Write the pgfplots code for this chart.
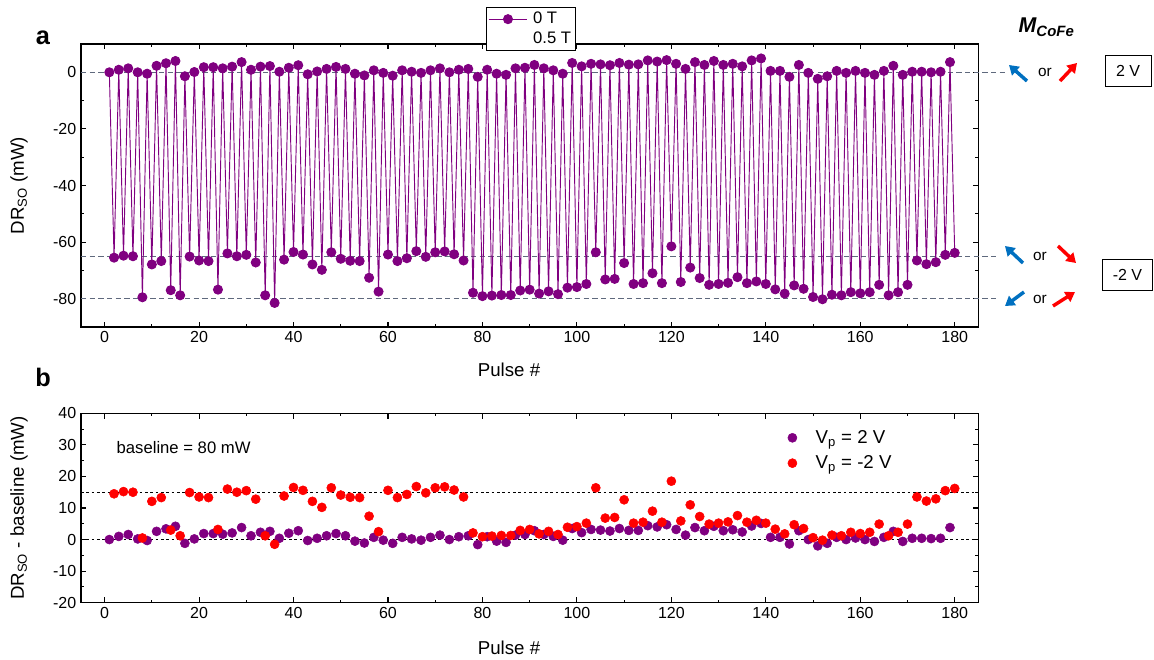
\documentclass[border=0pt]{standalone}
\usepackage{pgfplots}
\pgfplotsset{compat=1.18}
\usepackage{pgfplotstable}
\usepackage{fontspec}
\setmainfont{Liberation Sans}
\usetikzlibrary{arrows.meta}
\definecolor{pur}{RGB}{128,0,128}
\definecolor{dgray}{RGB}{95,105,125}
\definecolor{arblue}{RGB}{0,112,192}
\definecolor{arred}{RGB}{255,0,0}

\pgfplotstableread{
n v
1 0
2 -65.5
3 0.9
4 -64.8
5 1.4
6 -65
7 0
8 -79.5
9 -0.5
10 -67.9
11 2.3
12 -66.7
13 3.2
14 -77
15 4
16 -78.8
17 -1.4
18 -65.1
19 0.1
20 -66.5
21 1.8
22 -66.7
23 1.8
24 -76.8
25 1.4
26 -64
27 2
28 -65
29 3.6
30 -64.5
31 0.9
32 -67.2
33 2
34 -78.8
35 2.2
36 -81.5
37 0.2
38 -66.2
39 1.6
40 -63.5
41 2.5
42 -64.4
43 -0.7
44 -67.9
45 0.3
46 -69.8
47 1.2
48 -63.6
49 1.9
50 -65.9
51 1.2
52 -66.6
53 -0.5
54 -66.7
55 -1.1
56 -72.6
57 0.7
58 -77.5
59 -0.2
60 -64.4
61 -1.2
62 -66.7
63 0.7
64 -65.7
65 0.2
66 -63.2
67 -0.2
68 -65.2
69 0.7
70 -63.6
71 1.4
72 -63.3
73 0
74 -64.3
75 0.9
76 -66.5
77 1.2
78 -77.9
79 -1.6
80 -79.1
81 0.9
82 -78.9
83 -0.5
84 -78.7
85 -0.9
86 -78.7
87 1.4
88 -77.1
89 1.6
90 -76.8
91 2.6
92 -78.2
93 1.4
94 -77.4
95 0.7
96 -78.4
97 -0.5
98 -76.1
99 3.3
100 -75.9
101 2.1
102 -74.8
103 3
104 -63.6
105 2.8
106 -73.2
107 2.5
108 -73
109 3.3
110 -67.4
111 2.7
112 -74.8
113 2.8
114 -74.5
115 4.2
116 -71
117 3.8
118 -74.5
119 4.3
120 -61.5
121 3
122 -74.1
123 1.2
124 -69
125 3.6
126 -72.7
127 2.6
128 -75.1
129 4
130 -74.8
131 2.6
132 -74.4
133 3
134 -72.4
135 2.1
136 -74.5
137 4.2
138 -73.9
139 4.9
140 -74.8
141 0.5
142 -76.7
143 0.5
144 -78.2
145 -1.6
146 -75.3
147 2.6
148 -76.5
149 -0.2
150 -79.4
151 -2.3
152 -80.2
153 -1.4
154 -78.6
155 0.5
156 -78.8
157 -0.2
158 -77.7
159 0.5
160 -78.1
161 -0.2
162 -77.7
163 -0.9
164 -75.1
165 0.5
166 -78.8
167 2.3
168 -77.7
169 -0.9
170 -75.1
171 0.2
172 -66.5
173 0.2
174 -67.8
175 0
176 -67.1
177 0.2
178 -64.5
179 3.6
180 -63.8
}\toptable

\pgfplotstableread{
n v
1 0
3 1.0
5 1.6
7 0.2
9 -0.3
11 2.6
13 3.4
15 4.2
17 -1.2
19 0.2
21 1.9
23 1.9
25 1.7
27 2.1
29 3.8
31 1.2
33 2.3
35 2.6
37 0.4
39 2.0
41 2.8
43 -0.3
45 0.4
47 1.2
49 1.9
51 1.2
53 -0.5
55 -1.1
57 0.7
59 -0.2
61 -1.2
63 0.7
65 0.2
67 -0.2
69 0.7
71 1.4
73 0
75 0.9
77 1.2
79 -1.6
81 0.9
83 -0.5
85 -0.9
87 1.4
89 1.6
91 2.8
93 1.6
95 1.0
97 -0.2
99 3.5
101 2.2
103 3.2
105 3.0
107 2.7
109 3.5
111 2.9
113 2.9
115 4.4
117 4.0
119 4.7
121 3.2
123 1.4
125 3.8
127 2.8
129 4.2
131 2.8
133 3.1
135 2.4
137 4.3
139 5.1
141 0.7
143 0.7
145 -1.4
147 2.8
149 0
151 -2.0
153 -1.2
155 0.7
157 0
159 0.5
161 0
163 -0.6
165 0.7
167 2.6
169 -0.6
171 0.4
173 0.4
175 0.3
177 0.4
179 3.8
}\purtable

\pgfplotstableread{
n v
2 14.5
4 15.2
6 15
8 0.5
10 12.1
12 13.3
14 3
16 1.2
18 14.9
20 13.5
22 13.3
24 3.2
26 16
28 15
30 15.5
32 12.8
34 1.2
36 -1.5
38 13.8
40 16.5
42 15.6
44 12.1
46 10.2
48 16.4
50 14.1
52 13.4
54 13.3
56 7.4
58 2.5
60 15.6
62 13.3
64 14.3
66 16.8
68 14.8
70 16.4
72 16.7
74 15.7
76 13.5
78 2.1
80 0.9
82 1.1
84 1.3
86 1.3
88 2.9
90 3.2
92 1.8
94 2.6
96 1.6
98 3.9
100 4.1
102 5.2
104 16.4
106 6.8
108 7
110 12.6
112 5.2
114 5.5
116 9
118 5.5
120 18.5
122 5.9
124 11
126 7.3
128 4.9
130 5.2
132 5.6
134 7.6
136 5.5
138 6.1
140 5.2
142 3.3
144 1.8
146 4.7
148 3.5
150 0.6
152 -0.2
154 1.4
156 1.2
158 2.3
160 1.9
162 2.3
164 4.9
166 1.2
168 2.3
170 4.9
172 13.5
174 12.2
176 12.9
178 15.5
180 16.2
}\redtable

\pgfplotsset{
  myaxis/.style={
    scale only axis,
    width=673pt,
    xmin=-5, xmax=185,
    xtick={0,20,...,180},
    minor x tick num=1,
    tick align=inside,
    major tick length=4pt,
    minor tick length=2.2pt,
    axis line style={line width=0.9pt},
    tick style={line width=0.8pt, black},
    tick label style={font=\fontsize{12}{14}\selectfont},
    label style={font=\fontsize{14}{16}\selectfont},
    /pgf/number format/assume math mode=true,
    clip=false,
  },
  longline/.style={legend image code/.code={%
    \draw[mark repeat=2,mark phase=2,##1] plot coordinates {(0pt,0pt) (14.5pt,0pt) (29pt,0pt)};}},
}

\begin{document}
\begin{tikzpicture}
\begin{scope}[x=0.75pt,y=-0.75pt]
\useasboundingbox (0,0) rectangle (1154,659);
\end{scope}

% ---------- panel a ----------
\begin{axis}[myaxis,
  at={(60.75pt,-33pt)}, anchor=north west,
  height=212.25pt,
  ymin=-90, ymax=10,
  ytick={-80,-60,...,0},
  minor y tick num=1,
  xlabel={Pulse \#},
  ylabel={DR\textsubscript{SO} (mW)},
  xlabel style={at={(axis description cs:0.477,-0.152)}, anchor=center},
  ylabel style={at={(axis description cs:-0.069,0.5)}, anchor=center},
  legend style={at={(0.451,1.13)}, anchor=north west,
    font=\fontsize{12.5}{14}\selectfont, draw=black, fill=white,
    line width=0.7pt, inner sep=1.5pt, row sep=0.5pt,
    /tikz/every odd column/.append style={column sep=2pt}},
  legend cell align=left,
]
\draw[dgray, line width=0.8pt, dash pattern=on 4pt off 2.5pt] (axis cs:-5,0) -- (axis cs:190.7,0);
\draw[dgray, line width=0.8pt, dash pattern=on 4pt off 2.5pt] (axis cs:-5,-65) -- (axis cs:189,-65);
\draw[dgray, line width=0.8pt, dash pattern=on 4pt off 2.5pt] (axis cs:-5,-80) -- (axis cs:189,-80);
\addplot[pur, line width=0.7pt, mark=*, mark size=3.4pt, mark options={solid, fill=pur}, longline] table[x=n, y=v] {\toptable};
\addlegendentry{0 T}
\addlegendimage{empty legend}
\addlegendentry{0.5 T}
\end{axis}

% ---------- panel b ----------
\begin{axis}[myaxis,
  at={(60.75pt,-310pt)}, anchor=north west,
  height=142pt,
  ymin=-20, ymax=40,
  ytick={-20,-10,...,40},
  minor y tick num=1,
  xlabel={Pulse \#},
  ylabel={DR\textsubscript{SO} - baseline (mW)},
  xlabel style={at={(axis description cs:0.477,-0.239)}, anchor=center},
  ylabel style={at={(axis description cs:-0.069,0.5)}, anchor=center},
  legend style={at={(0.783,0.94)}, anchor=north west,
    font=\fontsize{14}{16}\selectfont, draw=none, fill=none, row sep=3.75pt,
    /tikz/every odd column/.append style={column sep=12pt}},
  legend cell align=left,
]
\draw[black, line width=0.8pt, dash pattern=on 2pt off 2pt] (axis cs:-5,0) -- (axis cs:185,0);
\draw[black, line width=0.8pt, dash pattern=on 2pt off 2pt] (axis cs:-5,15) -- (axis cs:185,15);
\node[anchor=west, inner sep=0pt, font=\fontsize{12.5}{15}\selectfont] at (axis cs:2.5,29.3) {baseline = 80 mW};
\addplot[only marks, mark=*, pur, mark size=3.4pt] table[x=n, y=v] {\purtable};
\addlegendentry{V\textsubscript{p} = 2 V}
\addplot[only marks, mark=*, red, mark size=3.4pt] table[x=n, y=v] {\redtable};
\addlegendentry{V\textsubscript{p} = -2 V}
\end{axis}

% ---------- annotations ----------
\begin{scope}[x=0.75pt,y=-0.75pt]
\node[font=\bfseries\fontsize{19}{22}\selectfont] at (43,38) {a};
\node[font=\bfseries\fontsize{19}{22}\selectfont] at (43,377) {b};
\node[anchor=base west, font=\bfseries\itshape\fontsize{16}{19}\selectfont] at (1014,33) {M\textsubscript{CoFe}};
% level 0
\draw[arblue, line width=2.6pt, -{Triangle[length=7pt,width=8.5pt]}] (1027,81) -- (1009,65);
\node[font=\fontsize{11.5}{13}\selectfont] at (1045,72) {or};
\draw[arred, line width=2.6pt, -{Triangle[length=7pt,width=8.5pt]}] (1060,81) -- (1077,63);
\node[draw, line width=0.7pt, minimum width=34.5pt, minimum height=23pt, inner sep=0pt, font=\fontsize{12}{14}\selectfont] at (1128,71.3) {2 V};
% level -65
\draw[arblue, line width=2.6pt, -{Triangle[length=7pt,width=8.5pt]}] (1023,263) -- (1005,246);
\node[font=\fontsize{11.5}{13}\selectfont] at (1040,256) {or};
\draw[arred, line width=2.6pt, -{Triangle[length=7pt,width=8.5pt]}] (1058,246) -- (1076,263);
% level -80
\draw[arblue, line width=2.6pt, -{Triangle[length=7pt,width=8.5pt]}] (1024,292) -- (1005,306);
\node[font=\fontsize{11.5}{13}\selectfont] at (1040,299) {or};
\draw[arred, line width=2.6pt, -{Triangle[length=7pt,width=8.5pt]}] (1053,306) -- (1075,292);
\node[draw, line width=0.7pt, minimum width=38pt, minimum height=23pt, inner sep=0pt, font=\fontsize{12}{14}\selectfont] at (1127.5,274.7) {-2 V};
\end{scope}
\end{tikzpicture}
\end{document}
